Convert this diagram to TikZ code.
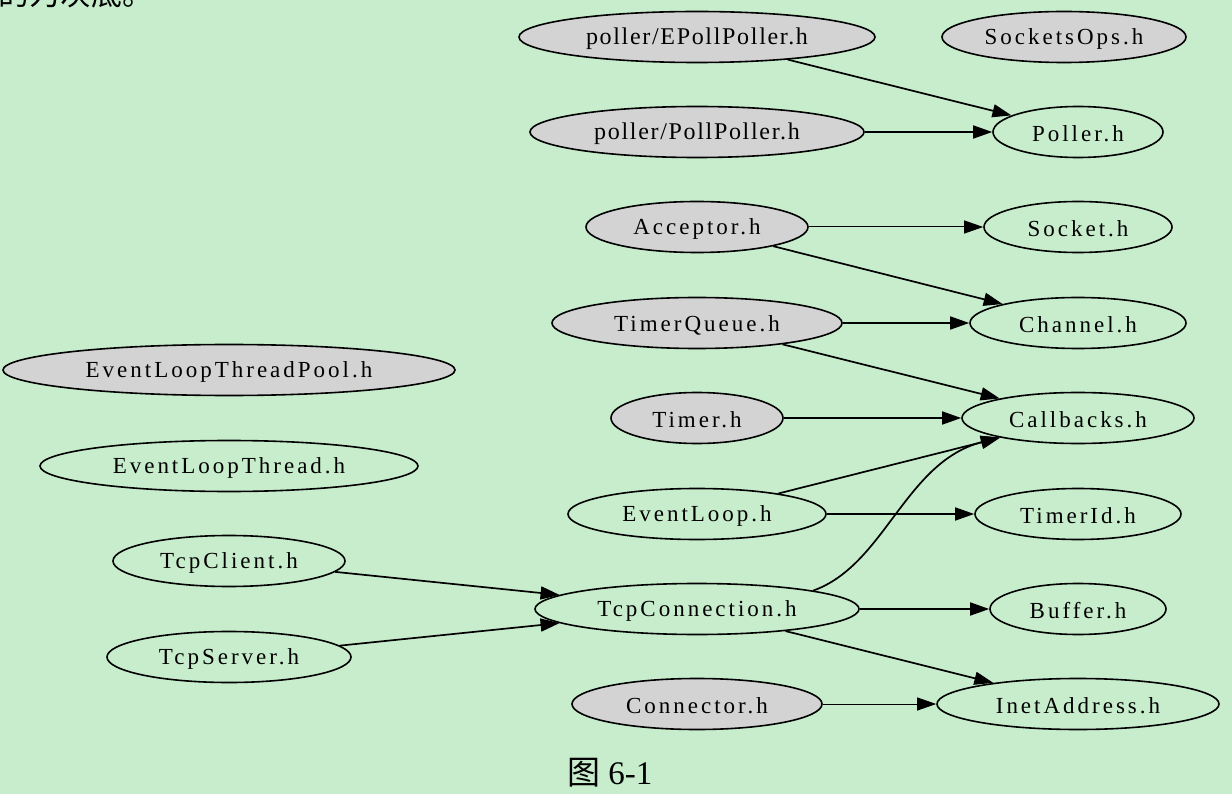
\documentclass[tikz,border=0pt]{standalone}
\usepackage{fontspec}
\setmainfont{Liberation Serif}
\newfontfamily\spaced[LetterSpace=13]{Liberation Serif}
\newfontfamily\semispaced[LetterSpace=7]{Liberation Serif}
\newfontfamily\cjk{Noto Sans CJK SC}
\usetikzlibrary{shapes.geometric,arrows.meta}
\definecolor{bg}{RGB}{199,237,204}
\definecolor{grayfill}{RGB}{211,211,211}
\begin{document}
\begin{tikzpicture}[x=1pt,y=-1pt,
  nd/.style={ellipse, draw, line width=1.6pt, minimum height=51pt, inner sep=0pt, minimum width=#1},
  gr/.style={fill=grayfill},
  lb/.style={font=\fontsize{23}{27}\selectfont\spaced, yshift=-2pt},
  lbn/.style={font=\fontsize{24}{28}\selectfont\semispaced, yshift=-2pt},
  ed/.style={line width=1.7pt, -{Triangle[length=19pt,width=13pt]}},
  edthin/.style={line width=1pt, -{Triangle[length=19pt,width=13pt]}},
  txt/.style={inner sep=0pt}]
\fill[bg] (0,0) rectangle (1232,794);
\useasboundingbox (0,0) rectangle (1232,794);
% top cut-off text
\node[txt, anchor=base west, font=\fontsize{31}{33}\selectfont\cjk] (toptext) at (-2,6) {的为灰底。};
% nodes
\node[nd=356pt, gr, label={[lbn]center:poller/EPollPoller.h}] (epoll) at (697,37) {};
\node[nd=244pt, gr, label={[lb]center:SocketsOps.h}] (sops) at (1064,37) {};
\node[nd=334pt, gr, label={[lbn]center:poller/PollPoller.h}] (poll) at (697,132) {};
\node[nd=170pt, label={[lb]center:Poller.h}] (poller) at (1078,132) {};
\node[nd=222pt, gr, label={[lb]center:Acceptor.h}] (acc) at (697,227) {};
\node[nd=188pt, label={[lb]center:Socket.h}] (sock) at (1078,227) {};
\node[nd=290pt, gr, label={[lb]center:TimerQueue.h}] (tq) at (697,323) {};
\node[nd=216pt, label={[lb]center:Channel.h}] (chan) at (1078,323) {};
\node[nd=452pt, gr, label={[lb]center:EventLoopThreadPool.h}] (eltp) at (229,370) {};
\node[nd=172pt, gr, label={[lb]center:Timer.h}] (timer) at (697,418) {};
\node[nd=232pt, label={[lb]center:Callbacks.h}] (cb) at (1078,418) {};
\node[nd=378pt, label={[lb]center:EventLoopThread.h}] (elt) at (229,466) {};
\node[nd=258pt, label={[lb]center:EventLoop.h}] (el) at (697,514) {};
\node[nd=206pt, label={[lb]center:TimerId.h}] (tid) at (1078,514) {};
\node[nd=232pt, label={[lb]center:TcpClient.h}] (tcli) at (229,561) {};
\node[nd=324pt, label={[lb]center:TcpConnection.h}] (tcon) at (697,609) {};
\node[nd=176pt, label={[lb]center:Buffer.h}] (buf) at (1078,609) {};
\node[nd=244pt, label={[lb]center:TcpServer.h}] (tsrv) at (229,657) {};
\node[nd=250pt, gr, label={[lb]center:Connector.h}] (conn) at (697,704) {};
\node[nd=282pt, label={[lb]center:InetAddress.h}] (inet) at (1078,704) {};
% caption
\node[txt, anchor=base west, font=\fontsize{33}{36}\selectfont] (caption) at (567,784) {{\cjk 图} 6-1};
% edges
\draw[ed] (epoll) -- (poller);
\draw[ed] (poll) -- (poller);
\draw[edthin] (acc) -- (sock);
\draw[ed] (acc) -- (chan);
\draw[ed] (tq) -- (chan);
\draw[ed] (tq) -- (cb);
\draw[ed] (timer) -- (cb);
\draw[ed] (el) -- (cb);
\draw[ed] (el) -- (tid);
\draw[ed] (tcon.9) .. controls (885,565) and (905,462) .. (cb.194);
\draw[ed] (tcon) -- (buf);
\draw[ed] (tcon) -- (inet);
\draw[ed] (tcli) -- (tcon);
\draw[ed] (tsrv) -- (tcon);
\draw[edthin] (conn) -- (inet);
\end{tikzpicture}
\end{document}
